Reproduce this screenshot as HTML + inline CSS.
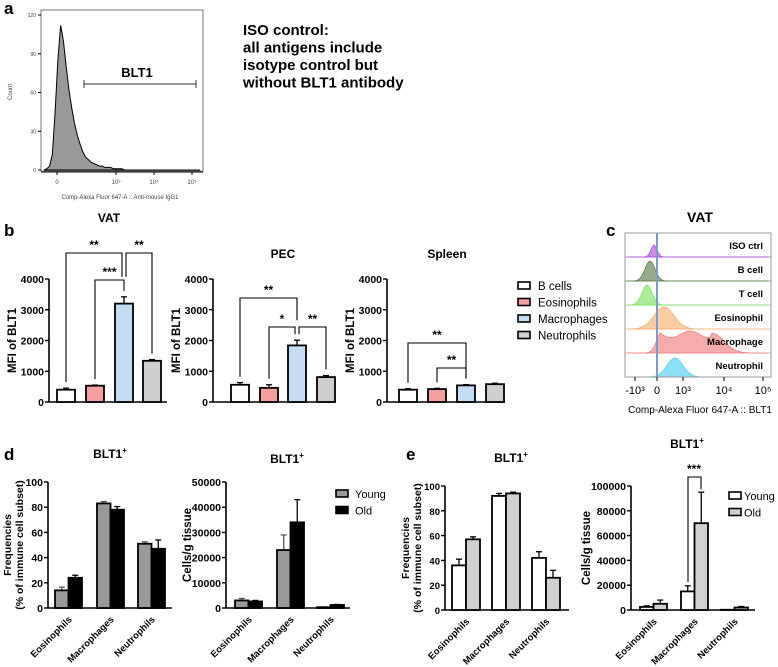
<!DOCTYPE html>
<html><head><meta charset="utf-8"><style>
body{margin:0;background:#fff}
svg{display:block;font-family:"Liberation Sans",Arial,sans-serif}
</style></head><body>
<svg id="s" width="778" height="667" viewBox="0 0 778 667"></svg>
<script>
// ---- data ----
const histCounts=[0,1,3,12,45,85,112,100,80,62,48,36,27,20,14,10,8,6,5,4,3,3,2,2,2,1,1,1,1,0,0,0];
const bCats=["B cells","Eosinophils","Macrophages","Neutrophils"];
const bColors=["#ffffff","#f4a0a0","#c5dcf5","#cfcfcf"];
const vatVals=[400,530,3200,1340];const vatErr=[50,20,220,40];
const pecVals=[560,460,1840,810];const pecErr=[70,100,170,50];
const splVals=[400,420,540,580];const splErr=[30,25,25,30];
const mfiTicks=[0,1000,2000,3000,4000];
const cellCats=["Eosinophils","Macrophages","Neutrophils"];
const dFreqYoung=[14,83,51];const dFreqYoungErr=[2.5,1.5,1.5];
const dFreqOld=[24,78,47];const dFreqOldErr=[2,2.5,7];
const dCellYoung=[3000,23000,300];const dCellYoungErr=[800,6000,100];
const dCellOld=[2600,34000,1200];const dCellOldErr=[400,9000,200];
const eFreqYoung=[36,92,42];const eFreqYoungErr=[5,2,5];
const eFreqOld=[57,94,26];const eFreqOldErr=[2,1,6];
const eCellYoung=[2500,15000,200];const eCellYoungErr=[800,4500,100];
const eCellOld=[5000,70000,2000];const eCellOldErr=[3000,25000,800];
const freqTicks=[0,20,40,60,80,100];
const dCellTicks=[0,10000,20000,30000,40000,50000];
const eCellTicks=[0,20000,40000,60000,80000,100000];
const cRows=["ISO ctrl","B cell","T cell","Eosinophil","Macrophage","Neutrophil"];
const cColors=["#b04fd8","#5f7f4a","#7fe060","#f7b070","#f28080","#50d0f0"];

const S=document.getElementById('s');const NS="http://www.w3.org/2000/svg";
function el(tag,a,parent,txt){const e=document.createElementNS(NS,tag);for(const k in a)e.setAttribute(k,a[k]);if(txt!==undefined)e.textContent=txt;(parent||S).appendChild(e);return e;}
function grp(name){const g=el('g',{});return g;}
function txt(g,x,y,s,opt){opt=opt||{};const t=el('text',{x:x,y:y,'font-size':opt.fs||11,'font-weight':opt.fw||'bold','text-anchor':opt.a||'middle',fill:opt.c||'#000'},g,s);if(opt.rot)t.setAttribute('transform',`rotate(${opt.rot} ${x} ${y})`);if(opt.name){}return t;}

[["a",4,14],["b",4,236],["c",606,236],["d",4,460],["e",406,460]].forEach(p=>txt(S,p[1],p[2],p[0],{fs:17,a:'start',name:'panel-label-'+p[0]}));

// ---- panel a ----
(function(){const g=grp('panel-a-histogram');
const x0=41,x1=203,y0=10,y1=171;
el('rect',{x:x0,y:y0,width:x1-x0,height:y1-y0,fill:'none',stroke:'#777','stroke-width':1},g);
const yS=v=>170-v*(155/120);
const bw=(130-44)/(histCounts.length-1);
let d=`M44 ${yS(0)}`;histCounts.forEach((c,i)=>{d+=` L${44+i*bw} ${yS(c)}`});d+=` L${44+(histCounts.length-1)*bw} ${yS(0)} L200 170 Z`;
const p=el('path',{d:d,fill:'#999',stroke:'#000','stroke-width':1},g);
[0,30,60,90,120].forEach(v=>{el('line',{x1:x0-3,x2:x0,y1:yS(v),y2:yS(v),stroke:'#000'},g);txt(g,x0-5,yS(v)+2,v,{fs:5,fw:'normal',a:'end',c:'#444'})});
el('line',{x1:x0,x2:x1,y1:172,y2:172,stroke:'#000'},g);
[[57,"0"],[116,"10³"],[154,"10⁴"],[192,"10⁵"]].forEach(t=>{el('line',{x1:t[0],x2:t[0],y1:172,y2:175,stroke:'#000'},g);txt(g,t[0],184,t[1],{fs:6,fw:'normal',c:'#444'})});
txt(g,12,92,"Count",{fs:6,fw:'normal',rot:-90,c:'#444'});
txt(g,120,199,"Comp-Alexa Fluor 647-A :: Anti-mouse IgG1",{fs:6,fw:'normal',c:'#444',name:'x-axis-title-a'});
el('line',{x1:84,x2:196,y1:84,y2:84,stroke:'#333','stroke-width':1},g);
el('line',{x1:84,x2:84,y1:80,y2:88,stroke:'#333'},g);el('line',{x1:196,x2:196,y1:80,y2:88,stroke:'#333'},g);
txt(g,137,77,"BLT1",{fs:13,name:'gate-label'});
["ISO control:","all antigens include","isotype control but","without BLT1 antibody"].forEach((s,i)=>txt(g,243,35+i*17.5,s,{fs:15,a:'start',name:'iso-note-line'}));
})();

// ---- generic bar chart ----
function barChart(o){const g=grp(o.name);
const yS=v=>o.y0-(v/o.max)*(o.y0-o.yTop);
el('line',{x1:o.ax,x2:o.ax,y1:o.yTop,y2:o.y0,stroke:'#000','stroke-width':1.6},g);
el('line',{x1:o.ax,x2:o.axEnd,y1:o.y0,y2:o.y0,stroke:'#000','stroke-width':1.6},g);
o.ticks.forEach(v=>{el('line',{x1:o.ax-4,x2:o.ax,y1:yS(v),y2:yS(v),stroke:'#000','stroke-width':1.4},g);txt(g,o.ax-5,yS(v)+4,v,{a:'end',fs:o.tfs||10.5})});
o.series.forEach(s=>{s.vals.forEach((v,i)=>{const x=s.xs[i];const top=yS(v);const e=yS(v+s.err[i]);
el('line',{x1:x+s.w/2,x2:x+s.w/2,y1:e,y2:top,stroke:s.ec||'#000','stroke-width':1.3},g);
el('line',{x1:x+s.w/2-3,x2:x+s.w/2+3,y1:e,y2:e,stroke:s.ec||'#000','stroke-width':1.3},g);
const r=el('rect',{x:x,y:top,width:s.w,height:o.y0-top,fill:s.colors[i],stroke:'#000','stroke-width':1.8},g);
});});
txt(g,o.tx,o.ty,o.title,{fs:12,name:'chart-title'});
if(o.title2)el('tspan',{'font-size':8,dy:-5},g.lastChild,o.title2);
const yfs=o.ylab.length>1?10.5:11.5;
o.ylab.forEach((l,i)=>txt(g,o.ylx+i*12,(o.y0+o.yTop)/2,l,{fs:yfs,rot:-90,name:'y-axis-title'}));
if(o.xcats)o.xcats.forEach((c,i)=>txt(g,o.xcx[i],o.y0+12,c,{fs:9.5,a:'end',rot:-45}));
return {g,yS};}

function mfi(name,title,tx,ax,vals,err,xs){return barChart({name,title,tx,ty:title=="VAT"?222:258,ax,axEnd:ax+118,y0:402,yTop:279,max:4000,ticks:mfiTicks,ylab:["MFI of BLT1"],ylx:ax-33,
series:[{label:'mfi',vals,err,xs,w:18,colors:bColors}]});}
function brk(g,b){el('path',{d:`M${b[0]} ${b[3]} V${b[2]} H${b[1]} V${b[4]}`,fill:'none',stroke:'#000','stroke-width':1.1},g);txt(g,(b[0]+b[1])/2,b[2]-4,b[5],{fs:12})}
const c=(xs,i)=>xs[i]+9;
const vx=[57,86,115,143];
const vat=mfi('chart-vat','VAT',109,49,vatVals,vatErr,vx);
[[c(vx,0),c(vx,2)-2,253,vat.yS(vatVals[0]+vatErr[0])-6,vat.yS(vatVals[2]+vatErr[2])-20,"**"],[c(vx,2)+2,c(vx,3),253,vat.yS(vatVals[2]+vatErr[2])-20,vat.yS(vatVals[3]+vatErr[3])-6,"**"],[c(vx,1),c(vx,2),280,vat.yS(vatVals[1]+vatErr[1])-6,vat.yS(vatVals[2]+vatErr[2])-6,"***"]].forEach(b=>brk(vat.g,b));
const px=[231,260,288,317];
const pec=mfi('chart-pec','PEC',283,213,pecVals,pecErr,px);
[[c(px,0),c(px,2),298,pec.yS(pecVals[0]+pecErr[0])-6,pec.yS(pecVals[2]+pecErr[2])-20,"**"],[c(px,1),c(px,2)-2,327,pec.yS(pecVals[1]+pecErr[1])-6,pec.yS(pecVals[2]+pecErr[2])-6,"*"],[c(px,2)+2,c(px,3),327,pec.yS(pecVals[2]+pecErr[2])-6,pec.yS(pecVals[3]+pecErr[3])-6,"**"]].forEach(b=>brk(pec.g,b));
const sx=[399,428,457,486];
const spl=mfi('chart-spleen','Spleen',447,387,splVals,splErr,sx);
[[c(sx,0),c(sx,2),343,spl.yS(splVals[0]+splErr[0])-6,spl.yS(splVals[2]+splErr[2])-6,"**"],[c(sx,1),c(sx,2),368,spl.yS(splVals[1]+splErr[1])-6,spl.yS(splVals[2]+splErr[2])-6,"**"]].forEach(b=>brk(spl.g,b));
(function(){const g=grp('legend-b');bCats.forEach((n,i)=>{const y=286+i*16.5;const r=el('rect',{x:518,y:y-4,width:12,height:7,fill:bColors[i],stroke:'#000','stroke-width':1.6},g);txt(g,538,y+4,n,{fs:11.5,fw:'normal',a:'start'})});})();

// ---- panel c ----
(function(){const g=grp('panel-c-histograms');
const x0=625,x1=771,y0=233,y1=377,rh=(y1-y0)/6;
txt(g,700,222,"VAT",{fs:14});
const centers=[654,650,647,664,690,675],widths=[3,5,5,10,28,8],heights=[12,20,20,22,22,19];
cRows.forEach((n,i)=>{const base=y0+rh*(i+1);let d=`M${x0+3} ${base}`;
for(let x=x0+3;x<=x1-3;x+=2){const z=(x-centers[i])/widths[i];let h=heights[i]*Math.exp(-z*z/2);if(i==4){h=x<centers[i]-28?heights[i]*Math.exp(-Math.pow((x-centers[i]+28)/5,2)/2):(x<centers[i]+22?heights[i]*(0.85+0.15*Math.cos((x-centers[i])/6)):heights[i]*Math.exp(-Math.pow((x-centers[i]-22)/12,2)/2)*0.9);}d+=` L${x} ${base-h}`;}
d+=` L${x1-3} ${base} Z`;
const p=el('path',{d:d,fill:cColors[i],'fill-opacity':0.65,stroke:cColors[i],'stroke-width':0.8},g);
el('line',{x1:x0,x2:x1,y1:base,y2:base,stroke:cColors[i],'stroke-width':0.7},g);
txt(g,763,y0+rh*i+16,n,{fs:9.5,a:'end'});});
el('rect',{x:x0,y:y0,width:x1-x0,height:y1-y0,fill:'none',stroke:'#999'},g);
el('line',{x1:657,x2:657,y1:y0,y2:y1,stroke:'#7c9ccc','stroke-width':2},g);
[[635,"-10³"],[657,"0"],[683,"10³"],[724,"10⁴"],[763,"10⁵"]].forEach(t=>{el('line',{x1:t[0],x2:t[0],y1:y1,y2:y1+4,stroke:'#000'},g);txt(g,t[0],y1+17,t[1],{fs:11,fw:'normal'})});
txt(g,700,413,"Comp-Alexa Fluor 647-A :: BLT1",{fs:10,fw:'normal',name:'x-axis-title-c'});
})();

// ---- panels d / e ----
function grouped(name,ax,y0,yTop,max,ticks,young,yErr,old,oErr,xs,w,yc,oc,title,tx,ty,ylab,ylx,tfs){
return barChart({name,title,title2:"+",tx,ty,ax,axEnd:ax+124,y0,yTop,max,ticks,ylab,ylx,tfs,xcats:cellCats,xcx:xs.map(x=>x+w+4),
series:[{label:'young',vals:young,err:yErr,xs:xs,w:w,colors:[yc,yc,yc],ec:yc=="#999"?'#555':'#000'},{label:'old',vals:old,err:oErr,xs:xs.map(x=>x+w),w:w,colors:[oc,oc,oc]}]});}
grouped('chart-d-freq',48,608,482,100,freqTicks,dFreqYoung,dFreqYoungErr,dFreqOld,dFreqOldErr,[55,97,138],13.5,'#999','#000',"BLT1",110,458,["Frequencies","(% of immune cell subset)"],11);
grouped('chart-d-cells',226,608,482,50000,dCellTicks,dCellYoung,dCellYoungErr,dCellOld,dCellOldErr,[235,277,317],13.5,'#999','#000',"BLT1",287,463,["Cells/g tissue"],191);
grouped('chart-e-freq',445,610,486,100,freqTicks,eFreqYoung,eFreqYoungErr,eFreqOld,eFreqOldErr,[452,492,532],14,'#fff','#d0d0d0',"BLT1",511,462,["Frequencies","(% of immune cell subset)"],409,9.5);
const ec=grouped('chart-e-cells',631,610,486,100000,eCellTicks,eCellYoung,eCellYoungErr,eCellOld,eCellOldErr,[640,681,721],13.5,'#fff','#d0d0d0',"BLT1",687,448,["Cells/g tissue"],590);
el('path',{d:`M688 ${ec.yS(19500)-4} V477 H701 V${ec.yS(95000)-3}`,fill:'none',stroke:'#000','stroke-width':1.1},ec.g);txt(ec.g,694,473,"***",{fs:12});
function legend(name,x,y,cols,tg){const g=grp(name);["Young","Old"].forEach((n,i)=>{const r=el('rect',{x:x,y:y+i*16.5-4,width:12,height:7,fill:cols[i],stroke:'#000','stroke-width':1.6},g);txt(g,x+tg,y+i*16.5+4,n,{fs:11,fw:'normal',a:'start'})});}
legend('legend-d',336,494,['#999','#000'],19);
legend('legend-e',729,496,['#fff','#d0d0d0'],15);
</script>
</body></html>
